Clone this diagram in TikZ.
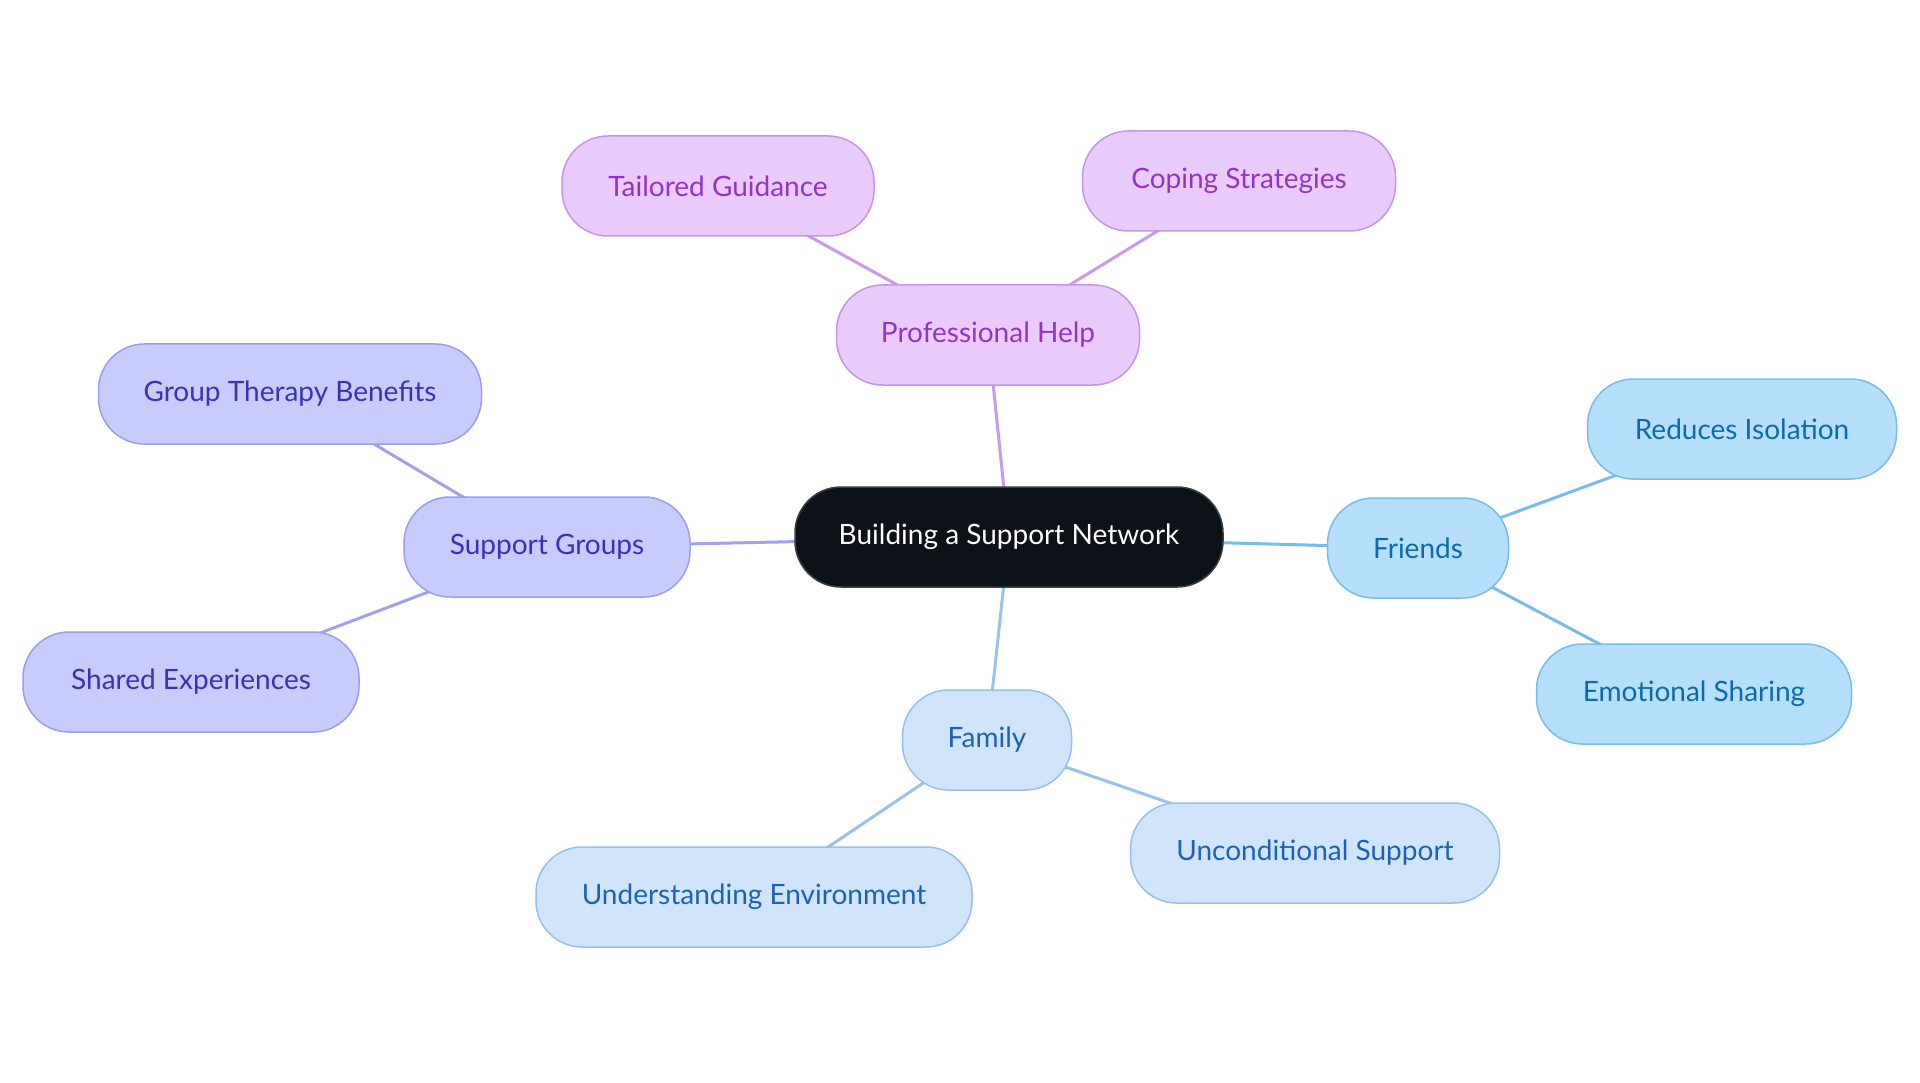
\documentclass[tikz,border=0pt]{standalone}
\usepackage{fontspec}
\setmainfont{Lato}
\usetikzlibrary{backgrounds}
\definecolor{pfill}{HTML}{EACBFF}\definecolor{pdraw}{HTML}{C795E6}\definecolor{ptext}{HTML}{9234C6}\definecolor{pedge}{HTML}{C99BEB}
\definecolor{ifill}{HTML}{C8CBFD}\definecolor{idraw}{HTML}{9A9EEB}\definecolor{itext}{HTML}{3A32B8}\definecolor{iedge}{HTML}{9FA3EC}
\definecolor{sfill}{HTML}{B5DFFC}\definecolor{sdraw}{HTML}{78BDEA}\definecolor{stext}{HTML}{0B6BAE}\definecolor{sedge}{HTML}{79BCE6}
\definecolor{bfill}{HTML}{D0E5FC}\definecolor{bdraw}{HTML}{97C0EC}\definecolor{btext}{HTML}{1D63B5}\definecolor{bedge}{HTML}{9CC2EC}
\definecolor{cfill}{HTML}{0D1219}\definecolor{cdraw}{HTML}{3A3F45}
\begin{document}
\begin{tikzpicture}[x=1pt,y=-1pt,
  box/.style={rounded corners=46pt, minimum height=100pt, inner sep=0pt, line width=1.5pt, font=\fontsize{28}{32}\selectfont},
  pbox/.style={box, fill=pfill, draw=pdraw, text=ptext},
  ibox/.style={box, fill=ifill, draw=idraw, text=itext},
  sbox/.style={box, fill=sfill, draw=sdraw, text=stext},
  bbox/.style={box, fill=bfill, draw=bdraw, text=btext},
  cbox/.style={box, fill=cfill, draw=cdraw, text=white},
  link/.style={line width=3pt}]
\node[cbox, minimum width=428pt] (c) at (1009,537) {Building a Support Network};
\node[pbox, minimum width=303pt] (ph) at (988,335) {Professional Help};
\node[pbox, minimum width=312pt] (tg) at (718,186) {Tailored Guidance};
\node[pbox, minimum width=313pt] (cs) at (1239,181) {Coping Strategies};
\node[ibox, minimum width=286pt] (sg) at (547,547) {Support Groups};
\node[ibox, minimum width=383pt] (gt) at (290,394) {Group Therapy Benefits};
\node[ibox, minimum width=336pt] (se) at (191,682) {Shared Experiences};
\node[sbox, minimum width=181pt] (fr) at (1418,548) {Friends};
\node[sbox, minimum width=309pt] (ri) at (1742,429) {Reduces Isolation};
\node[sbox, minimum width=315pt] (es) at (1694,694) {Emotional Sharing};
\node[bbox, minimum width=169pt] (fa) at (987,740) {Family};
\node[bbox, minimum width=436pt] (ue) at (754,897) {Understanding Environment};
\node[bbox, minimum width=369pt] (us) at (1315,853) {Unconditional Support};
\begin{scope}[on background layer]
\fill[white] (0,0) rectangle (1920,1083);
\draw[link, pedge] (c.center) -- (ph.center);
\draw[link, pedge] (ph.center) -- (tg.center);
\draw[link, pedge] (ph.center) -- (cs.center);
\draw[link, iedge] (c.center) -- (sg.center);
\draw[link, iedge] (sg.center) -- (gt.center);
\draw[link, iedge] (sg.center) -- (se.center);
\draw[link, sedge] (c.center) -- (fr.center);
\draw[link, sedge] (fr.center) -- (ri.center);
\draw[link, sedge] (fr.center) -- (es.center);
\draw[link, bedge] (c.center) -- (fa.center);
\draw[link, bedge] (fa.center) -- (ue.center);
\draw[link, bedge] (fa.center) -- (us.center);
\end{scope}
\useasboundingbox (0,0) rectangle (1920,1083);
\end{tikzpicture}
\end{document}
